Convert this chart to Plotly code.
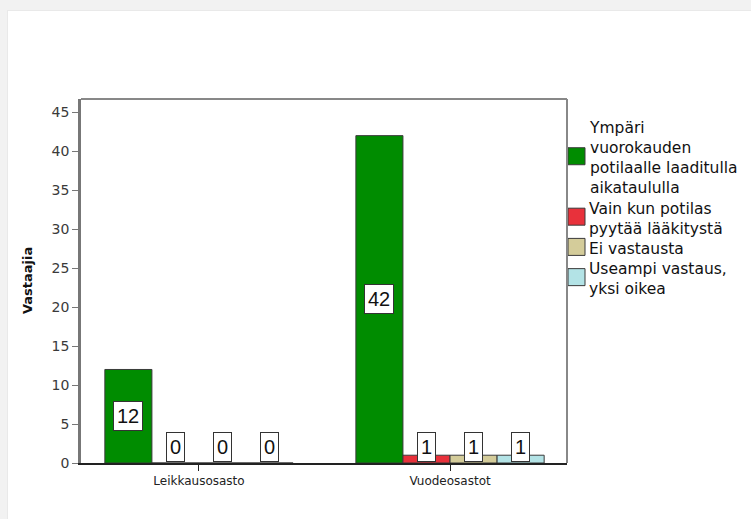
import plotly.graph_objects as go

# Survey data: when is pain medication given, by ward type
wards = ["Leikkausosasto", "Vuodeosastot"]
answers = [
    "Ympäri<br>vuorokauden<br>potilaalle laaditulla<br>aikataululla",
    "Vain kun potilas<br>pyytää lääkitystä",
    "Ei vastausta",
    "Useampi vastaus,<br>yksi oikea",
]
counts = [
    [12, 42],  # Ympäri vuorokauden ...
    [0, 1],    # Vain kun potilas ...
    [0, 1],    # Ei vastausta
    [0, 1],    # Useampi vastaus, yksi oikea
]
colors = ["#008c00", "#e8313b", "#d4cc9a", "#b3e3e6"]
y_ticks = [0, 5, 10, 15, 20, 25, 30, 35, 40, 45]

W, H = 751, 519
L, R, T, B = 81, 567, 99, 463          # plot area in pixels
X_RANGE = [-0.470, 1.466]
Y_RANGE = [0, 46.7]
BARGAP = 0.25
n_series = len(answers)
bar_w = (1 - BARGAP) / n_series


def px_x(px):
    return (px - L) / (R - L)


def px_y(py):
    return (B - py) / (B - T)


fig = go.Figure()
x_pos = list(range(len(wards)))
for name, vals, col in zip(answers, counts, colors):
    fig.add_trace(go.Bar(
        x=x_pos, y=vals, name=name.replace("<br>", " "),
        marker=dict(color=col, line=dict(color="#3a3a3a", width=1)),
        showlegend=False,
    ))

annotations = []
# value labels in white boxes
units_per_px = (Y_RANGE[1] - Y_RANGE[0]) / (B - T)
for j, vals in enumerate(counts):
    for i, v in enumerate(vals):
        xc = i + (j - (n_series - 1) / 2) * bar_w
        small = v / units_per_px < 30
        annotations.append(dict(
            x=xc, y=0 if small else v / 2, xref="x", yref="y",
            text=str(v), showarrow=False,
            xanchor="center",
            yanchor="bottom" if small else "middle",
            yshift=1 if small else 0,
            font=dict(family="Liberation Sans, Arial", size=20, color="#111"),
            bgcolor="white", bordercolor="#333", borderwidth=1, borderpad=3,
        ))

# legend drawn as swatches + multi-line text blocks
shapes = []
LEG_FONT = 15.5
line_step = 1.3 * LEG_FONT
first_line = 128
cy = first_line
for name, col in zip(answers, colors):
    n_lines = len(name.split("<br>"))
    centers = [cy + k * line_step for k in range(n_lines)]
    mid = sum(centers) / n_lines
    annotations.append(dict(
        x=px_x(587), y=px_y(mid), xref="paper", yref="paper",
        text=name, showarrow=False, xanchor="left", yanchor="middle",
        align="left",
        font=dict(family="DejaVu Sans", size=LEG_FONT, color="#111"),
    ))
    sq = mid - 2
    shapes.append(dict(
        type="rect", xref="paper", yref="paper",
        x0=px_x(568), x1=px_x(585), y0=px_y(sq + 8.5), y1=px_y(sq - 8.5),
        fillcolor=col, line=dict(color="#3a3a3a", width=1),
    ))
    cy = centers[-1] + line_step

# y-axis title
annotations.append(dict(
    x=px_x(27), y=0.5, xref="paper", yref="paper", text="Vastaajia",
    textangle=-90, showarrow=False, xanchor="center", yanchor="middle",
    font=dict(family="DejaVu Sans", size=13, color="#111", weight="bold"),
))

# page background: grey border strips around a white card
shapes += [
    dict(type="rect", xref="paper", yref="paper", layer="below",
         x0=px_x(0), x1=px_x(8), y0=px_y(H), y1=px_y(0),
         fillcolor="#f2f2f2", line=dict(width=0)),
    dict(type="rect", xref="paper", yref="paper", layer="below",
         x0=px_x(0), x1=px_x(W), y0=px_y(10), y1=px_y(0),
         fillcolor="#f2f2f2", line=dict(width=0)),
    dict(type="line", xref="paper", yref="paper", layer="below",
         x0=px_x(8), x1=px_x(W), y0=px_y(10.5), y1=px_y(10.5),
         line=dict(color="#e9e9e9", width=1)),
    dict(type="line", xref="paper", yref="paper", layer="below",
         x0=px_x(7.5), x1=px_x(7.5), y0=px_y(H), y1=px_y(10),
         line=dict(color="#e9e9e9", width=1)),
    # plot frame: top black, right grey
    dict(type="line", xref="paper", yref="paper",
         x0=0, x1=1, y0=1, y1=1, line=dict(color="#111", width=1)),
    dict(type="line", xref="paper", yref="paper",
         x0=1, x1=1, y0=0, y1=1, line=dict(color="#888", width=2)),
]

fig.update_layout(
    width=W, height=H,
    margin=dict(l=L, r=W - R, t=T, b=H - B, pad=0),
    paper_bgcolor="white", plot_bgcolor="white",
    barmode="group", bargap=BARGAP, bargroupgap=0,
    showlegend=False,
    annotations=annotations, shapes=shapes,
    xaxis=dict(
        range=X_RANGE, tickvals=x_pos, ticktext=wards,
        showgrid=False, zeroline=False,
        showline=True, linecolor="#222", linewidth=1.5,
        ticks="outside", ticklen=6, tickcolor="#222", tickwidth=1,
        tickfont=dict(family="DejaVu Sans", size=12, color="#222"),
    ),
    yaxis=dict(
        range=Y_RANGE, tickvals=y_ticks,
        showgrid=False, zeroline=False,
        showline=True, linecolor="#777", linewidth=2.5,
        ticks="outside", ticklen=6, tickcolor="#777", tickwidth=1,
        tickfont=dict(family="DejaVu Sans", size=14, color="#3a3a3a"),
    ),
)

fig.write_html("out.html")
